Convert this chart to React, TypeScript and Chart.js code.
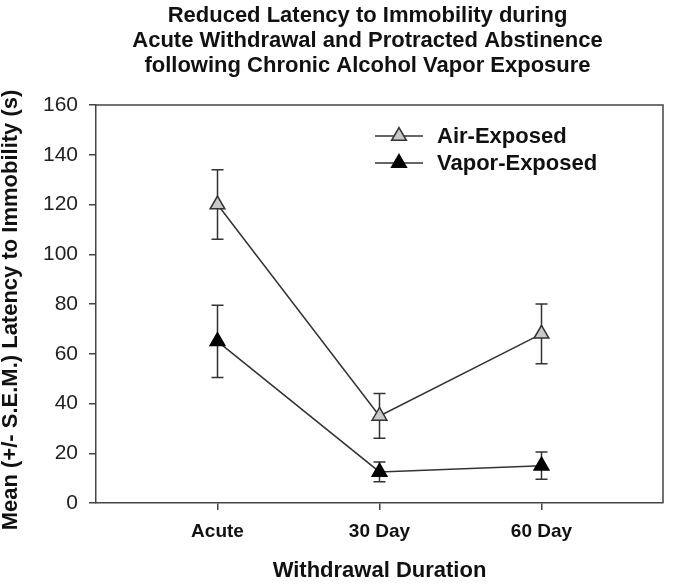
import React, { useEffect, useRef } from "react";
import { Chart, registerables } from "chart.js";

Chart.register(...registerables);

const categories = ["Acute", "30 Day", "60 Day"];
const airMeans = [120, 35, 68];
const airErrors = [14, 9, 12];
const vaporMeans = [65, 12.5, 15];
const vaporErrors = [14.5, 4, 5.5];
const titleLines = [
  "Reduced Latency to Immobility during",
  "Acute Withdrawal and Protracted Abstinence",
  "following Chronic Alcohol Vapor Exposure",
];
const seriesNames = ["Air-Exposed", "Vapor-Exposed"];
const xTitle = "Withdrawal Duration";
const yTitle = "Mean (+/- S.E.M.) Latency to Immobility (s)";

const FONT = "'Liberation Sans', Arial, sans-serif";
const LINE = "#333333";
const TEXT = "#111111";
const MARK_R = 8.5;

const errorBarPlugin = {
  id: "errorBars",
  beforeDatasetsDraw(chart: any) {
    const ctx = chart.ctx;
    const y = chart.scales.y;
    const x = chart.scales.x;
    ctx.save();
    ctx.strokeStyle = LINE;
    ctx.lineWidth = 1.5;
    chart.data.datasets.forEach((ds: any) => {
      (ds.data as any[]).forEach((p: any, i: number) => {
        const err = ds.errors[i];
        const px = x.getPixelForValue(p.x);
        const top = y.getPixelForValue(p.y + err);
        const bot = y.getPixelForValue(p.y - err);
        ctx.beginPath();
        ctx.moveTo(px, top);
        ctx.lineTo(px, bot);
        ctx.moveTo(px - 6, top);
        ctx.lineTo(px + 6, top);
        ctx.moveTo(px - 6, bot);
        ctx.lineTo(px + 6, bot);
        ctx.stroke();
      });
    });
    ctx.restore();
  },
};

const decorPlugin = {
  id: "decor",
  afterDraw(chart: any) {
    const ctx = chart.ctx;
    const a = chart.chartArea;
    ctx.save();
    // frame top & right
    ctx.strokeStyle = "#444444";
    ctx.lineWidth = 1.5;
    ctx.beginPath();
    ctx.moveTo(a.left, a.top);
    ctx.lineTo(a.right, a.top);
    ctx.lineTo(a.right, a.bottom);
    ctx.stroke();
    // title
    ctx.fillStyle = TEXT;
    ctx.font = `bold 22px ${FONT}`;
    ctx.textAlign = "center";
    ctx.textBaseline = "middle";
    titleLines.forEach((t, i) => ctx.fillText(t, 367.5, 16 + i * 25));
    // y axis title
    ctx.save();
    ctx.translate(17, 310);
    ctx.rotate(-Math.PI / 2);
    ctx.textAlign = "center";
    ctx.textBaseline = "alphabetic";
    ctx.font = `bold 22px ${FONT}`;
    ctx.fillText(yTitle, 0, 0);
    ctx.restore();
    // legend
    chart.data.datasets.forEach((ds: any, i: number) => {
      const ly = 136 + i * 27;
      ctx.strokeStyle = LINE;
      ctx.lineWidth = 1.5;
      ctx.beginPath();
      ctx.moveTo(375, ly);
      ctx.lineTo(423, ly);
      ctx.stroke();
      ctx.beginPath();
      for (let k = 0; k < 3; k++) {
        const ang = (k * 2 * Math.PI) / 3;
        const vx = 399 + Math.sin(ang) * MARK_R;
        const vy = ly - Math.cos(ang) * MARK_R;
        if (k === 0) ctx.moveTo(vx, vy);
        else ctx.lineTo(vx, vy);
      }
      ctx.closePath();
      ctx.fillStyle = ds.pointBackgroundColor;
      ctx.fill();
      ctx.strokeStyle = ds.pointBorderColor;
      ctx.stroke();
      ctx.fillStyle = TEXT;
      ctx.font = `bold 22px ${FONT}`;
      ctx.textAlign = "left";
      ctx.textBaseline = "middle";
      ctx.fillText(ds.label, 437, ly + 1);
    });
    ctx.restore();
  },
};

export default function App() {
  const ref = useRef<HTMLCanvasElement | null>(null);
  useEffect(() => {
    if (!ref.current) return;
    const mk = (means: number[]) => means.map((v, i) => ({ x: i, y: v }));
    const chart = new Chart(ref.current, {
      type: "line",
      data: {
        datasets: [
          {
            label: seriesNames[0],
            data: mk(airMeans),
            errors: airErrors,
            borderColor: LINE,
            borderWidth: 1.5,
            pointStyle: "triangle",
            pointRadius: MARK_R,
            pointBackgroundColor: "#c8c8c8",
            pointBorderColor: LINE,
            pointBorderWidth: 1.5,
            tension: 0,
          } as any,
          {
            label: seriesNames[1],
            data: mk(vaporMeans),
            errors: vaporErrors,
            borderColor: LINE,
            borderWidth: 1.5,
            pointStyle: "triangle",
            pointRadius: MARK_R,
            pointBackgroundColor: "#000000",
            pointBorderColor: "#000000",
            pointBorderWidth: 1.5,
            tension: 0,
          } as any,
        ],
      },
      options: {
        responsive: false,
        animation: false,
        devicePixelRatio: 1,
        layout: { padding: { top: 105, right: 12, left: 0, bottom: 0 } },
        plugins: {
          legend: { display: false },
          title: { display: false },
          tooltip: { enabled: false },
        },
        scales: {
          x: {
            type: "linear",
            min: -0.75,
            max: 2.75,
            afterBuildTicks: (s: any) => {
              s.ticks = categories.map((_, i) => ({ value: i }));
            },
            afterFit: (s: any) => {
              s.height = 81;
            },
            ticks: {
              callback: (v: any) => categories[v] ?? "",
              font: { family: FONT, size: 19, weight: "bold" },
              color: TEXT,
              padding: 10,
              maxRotation: 0,
            },
            grid: {
              drawOnChartArea: false,
              drawTicks: true,
              tickLength: 7,
              color: "#444444",
              lineWidth: 1.5,
            },
            border: { display: true, color: "#444444", width: 1.5 },
            title: {
              display: true,
              text: xTitle,
              font: { family: FONT, size: 22, weight: "bold" },
              color: TEXT,
              padding: { top: 0, bottom: 0 },
            },
          },
          y: {
            min: 0,
            max: 160,
            afterFit: (s: any) => {
              s.width = 96;
            },
            ticks: {
              stepSize: 20,
              font: { family: FONT, size: 21 },
              color: "#222222",
              padding: 11,
            },
            grid: {
              drawOnChartArea: false,
              drawTicks: true,
              tickLength: 7,
              color: "#444444",
              lineWidth: 1.5,
            },
            border: { display: true, color: "#444444", width: 1.5 },
          },
        },
      } as any,
      plugins: [errorBarPlugin, decorPlugin],
    });
    return () => chart.destroy();
  }, []);
  return (
    <div style={{ position: "fixed", left: 0, top: 0, width: 675, height: 584, background: "#fff" }}>
      <canvas ref={ref} width={675} height={584} />
    </div>
  );
}
